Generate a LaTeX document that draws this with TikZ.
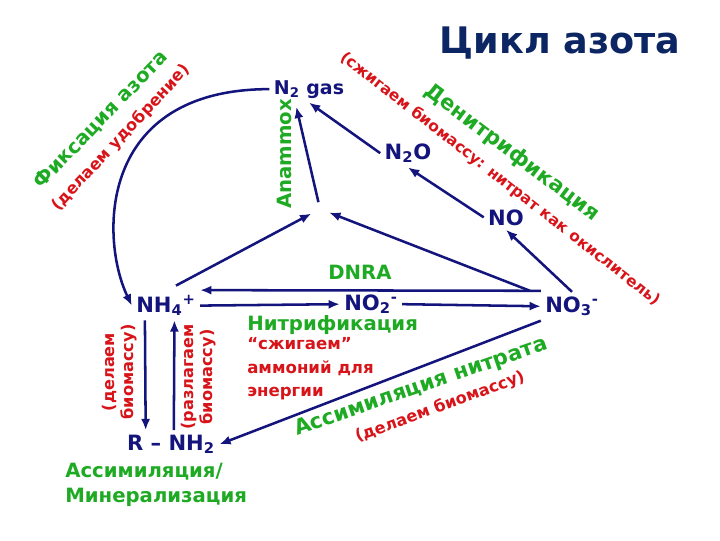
\documentclass[tikz,border=0pt]{standalone}
\usepackage{fontspec}
\setmainfont{DejaVu Sans}
\usepackage{xcolor}
\usetikzlibrary{arrows.meta}

\definecolor{navy}{RGB}{20,20,125}
\definecolor{ttl}{RGB}{12,38,100}
\definecolor{grn}{RGB}{30,170,35}
\definecolor{rd}{RGB}{215,20,25}

\tikzset{
  chem/.style={text=navy, font=\bfseries\fontsize{15}{18}\selectfont, inner sep=3pt},
  proc/.style={text=grn, font=\bfseries\fontsize{14}{17}\selectfont, inner sep=0pt},
  note/.style={text=rd, font=\bfseries\fontsize{11.5}{13.5}\selectfont, inner sep=0pt},
  arr/.style={draw=navy, line width=1.8pt, -{Latex[length=8pt,width=6.5pt]}}
}

\begin{document}
\begin{tikzpicture}[x=0.025cm,y=-0.025cm]
\useasboundingbox (0,0) rectangle (720,540);

\node[text=ttl, font=\bfseries\fontsize{26}{30}\selectfont, anchor=base] (title) at (560,53) {Цикл азота};

% compounds
\node[chem, font=\bfseries\fontsize{13.5}{16}\selectfont, anchor=base] (n2gas) at (309,94) {N\textsubscript{2} gas};
\node[chem, anchor=base] (ntwoo) at (408,159) {N\textsubscript{2}O};
\node[chem, anchor=base] (no) at (506,225) {NO};
\node[chem, anchor=base] (nothree) at (572,312) {NO\textsubscript{3}\textsuperscript{-}};
\node[chem, anchor=base] (notwo) at (371,310) {NO\textsubscript{2}\textsuperscript{-}};
\node[chem, anchor=base] (nhfour) at (166,312) {NH\textsubscript{4}\textsuperscript{+}};
\node[chem, anchor=base] (rnh) at (171,450) {R -- NH\textsubscript{2}};
\coordinate (junc) at (320,209);

% processes
\node[proc, rotate=46] (fix) at (101,120) {Фиксация азота};
\node[note, rotate=47] (fixnote) at (121,138) {(делаем удобрение)};
\node[proc, rotate=90] (anammox) at (284,154) {Anammox};
\node[proc, font=\bfseries\fontsize{15}{18}\selectfont, rotate=-37] (denitr) at (512,153) {Денитрификация};
\node[note, font=\bfseries\fontsize{11}{13}\selectfont, rotate=-38] (denitrnote) at (500,179) {(сжигаем биомассу: нитрат как окислитель)};
\node[proc, anchor=base] (dnra) at (360,279) {DNRA};
\node[proc, anchor=base west] (nitr) at (247,330) {Нитрификация};
\node[note, anchor=north west, align=left, font=\bfseries\fontsize{11.8}{16.8}\selectfont] (nitrnote) at (247,337) {“сжигаем”\\аммоний для\\энергии};
\node[proc, font=\bfseries\fontsize{15}{18}\selectfont, rotate=19] (assim) at (421,387) {Ассимиляция нитрата};
\node[note, rotate=20] (assimnote) at (440,407) {(делаем биомассу)};
\node[note, rotate=90, align=center] (mknote) at (120,372) {(делаем\\биомассу)};
\node[note, rotate=90, align=center] (rmnote) at (199,377) {(разлагаем\\биомассу)};
\node[proc, anchor=north west, align=left, font=\bfseries\fontsize{14}{17.7}\selectfont] (assimmin) at (65,463) {Ассимиляция/\\Минерализация};

% connectors
\draw[arr] (n2gas.west) .. controls +(-172,0) and +(-32,-67) .. (nhfour.west);
\draw[arr, shorten <=8pt, shorten >=7pt] (nhfour.north) -- (junc);
\draw[arr, shorten <=2pt, shorten >=7pt] ([xshift=-28pt]nothree.north) -- (junc);
\draw[arr, shorten <=5pt] (junc) -- ([xshift=-9pt,yshift=-3pt]n2gas.south);
\draw[arr] (ntwoo.west) -- (n2gas.south);
\draw[arr] (no.west) -- (ntwoo.south);
\draw[arr] (nothree.north) -- (no.south);
\draw[arr] ([yshift=11pt]nothree.west) -- ([yshift=11pt]nhfour.east);
\draw[arr] (nhfour.east) -- (notwo.west);
\draw[arr] (notwo.east) -- (nothree.west);
\draw[arr] (nothree.south west) -- (rnh.east);
\draw[arr] ([xshift=-15pt]nhfour.south) -- ([xshift=-18pt]rnh.north);
\draw[arr] ([xshift=2pt]rnh.north) -- ([xshift=6pt]nhfour.south);
\end{tikzpicture}
\end{document}
